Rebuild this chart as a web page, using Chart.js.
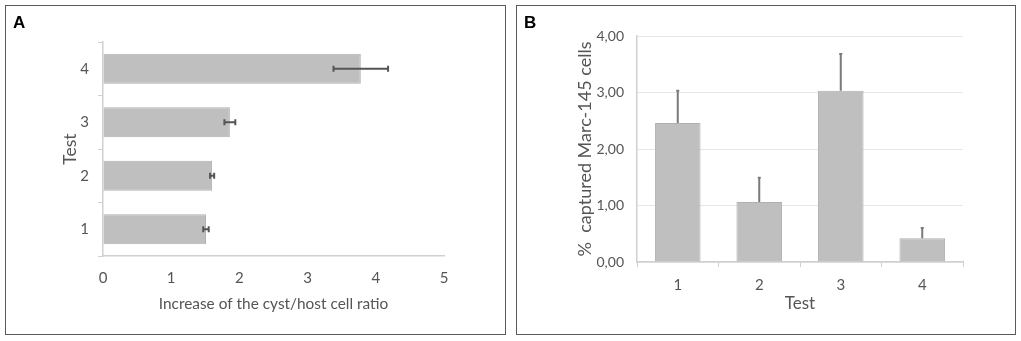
<!DOCTYPE html>
<html>
<head>
<meta charset="utf-8">
<script src="https://cdn.jsdelivr.net/npm/chart.js@4/dist/chart.umd.min.js"></script>
<style>
  html, body { margin: 0; padding: 0; background: #ffffff; }
  body { width: 1021px; height: 341px; position: relative; overflow: hidden; font-family: Lato, sans-serif; }
  .panel { position: absolute; top: 5px; height: 328px; border: 1px solid #5a5a5a; box-sizing: content-box; }
  .panel canvas { position: absolute; left: 0; top: 0; }
  .letter { position: absolute; left: 7px; top: 7px; font: bold 17px "Liberation Sans", Arial, sans-serif; color: #000; z-index: 2; }
</style>
</head>
<body>
<div class="panel" id="panelA" style="left:5px; width:499px;">
  <div class="letter">A</div>
  <div style="position:absolute;left:0;top:0;width:499px;height:328px;"><canvas id="chartA"></canvas></div>
</div>
<div class="panel" id="panelB" style="left:516px; width:498px;">
  <div class="letter">B</div>
  <div style="position:absolute;left:0;top:0;width:498px;height:328px;"><canvas id="chartB"></canvas></div>
</div>
<script>
// Panel A: cyst/host cell ratio (horizontal bars)
const testLabels = ['1', '2', '3', '4'];
const ratioValues = [1.51, 1.60, 1.86, 3.78];
const ratioErrors = [0.04, 0.03, 0.08, 0.40];
const ratioTicks = [0, 1, 2, 3, 4, 5];

// Panel B: captured Marc-145 cells (vertical bars)
const capturedValues = [2.46, 1.06, 3.03, 0.42];
const capturedErrors = [0.57, 0.43, 0.65, 0.18];
const capturedTicks = ['0,00', '1,00', '2,00', '3,00', '4,00'];

const colors = {
  bar: '#bfbfbf',
  barBorder: '#b0b0b0',
  axis: '#d0d0d0',
  grid: '#e6e6e6',
  text: '#555555',
  errA: '#555555',
  errB: '#7a7a7a'
};
const tickFont = { family: 'Lato', size: 15 };
const tickFontB = { family: 'Lato', size: 14 };

// draws error bars using the chart's own scales
const errorBarPlugin = {
  id: 'errorBars',
  afterDatasetsDraw(chart, args, opts) {
    const ctx = chart.ctx;
    const meta = chart.getDatasetMeta(0);
    const horizontal = chart.options.indexAxis === 'y';
    const valueScale = horizontal ? chart.scales.x : chart.scales.y;
    ctx.save();
    ctx.strokeStyle = opts.color;
    ctx.lineWidth = opts.width;
    meta.data.forEach((bar, i) => {
      const v = chart.data.datasets[0].data[i];
      const e = opts.errors[i];
      if (horizontal) {
        const y = bar.y;
        const x1 = valueScale.getPixelForValue(v - e);
        const x2 = valueScale.getPixelForValue(v + e);
        ctx.beginPath();
        ctx.moveTo(x1, y); ctx.lineTo(x2, y);
        ctx.moveTo(x1, y - 3); ctx.lineTo(x1, y + 3);
        ctx.moveTo(x2, y - 3); ctx.lineTo(x2, y + 3);
        ctx.stroke();
      } else {
        const x = bar.x;
        const y1 = valueScale.getPixelForValue(v);
        const y2 = valueScale.getPixelForValue(v + e);
        ctx.beginPath();
        ctx.moveTo(x, y1); ctx.lineTo(x, y2);
        ctx.moveTo(x - 1.5, y2); ctx.lineTo(x + 1.5, y2);
        ctx.stroke();
      }
    });
    ctx.restore();
  }
};

function fixSize(w, h) {
  return function(scale) {
    if (w !== null) scale.width = w;
    if (h !== null) scale.height = h;
  };
}

new Chart(document.getElementById('chartA'), {
  type: 'bar',
  data: {
    labels: testLabels,
    datasets: [{
      data: ratioValues,
      backgroundColor: colors.bar,
      borderColor: colors.barBorder,
      borderWidth: 1,
      categoryPercentage: 1,
      barPercentage: 0.56
    }]
  },
  options: {
    indexAxis: 'y',
    responsive: true,
    maintainAspectRatio: false,
    animation: false,
    layout: { padding: { top: 36, right: 61, left: 0, bottom: 0 } },
    plugins: {
      legend: { display: false },
      tooltip: { enabled: false },
      errorBars: { errors: ratioErrors, color: colors.errA, width: 2 }
    },
    scales: {
      x: {
        type: 'linear',
        min: 0,
        max: 5,
        afterBuildTicks: (scale) => { scale.ticks = ratioTicks.map(v => ({ value: v })); },
        afterFit: fixSize(null, 78),
        grid: { display: true, drawOnChartArea: false, drawTicks: false, color: colors.axis },
        border: { display: true, color: colors.axis, width: 1.5 },
        ticks: { color: colors.text, font: tickFont, padding: 13, maxRotation: 0 },
        title: {
          display: true,
          text: 'Increase of the cyst/host cell ratio',
          color: colors.text,
          font: { family: 'Lato', size: 15.4 },
          padding: { top: 0, bottom: 21 }
        }
      },
      y: {
        reverse: true,
        afterFit: fixSize(97, null),
        grid: { display: true, drawOnChartArea: false, drawTicks: true, tickLength: 5, color: colors.axis, offset: true },
        border: { display: true, color: colors.axis, width: 1.5 },
        ticks: { color: colors.text, font: tickFont, padding: 9 },
        title: {
          display: true,
          text: 'Test',
          color: colors.text,
          font: { family: 'Lato', size: 17.5 },
          padding: { top: 54, bottom: 0 }
        }
      }
    }
  },
  plugins: [errorBarPlugin]
});

new Chart(document.getElementById('chartB'), {
  type: 'bar',
  data: {
    labels: testLabels,
    datasets: [{
      data: capturedValues,
      backgroundColor: colors.bar,
      borderColor: colors.barBorder,
      borderWidth: 1,
      categoryPercentage: 1,
      barPercentage: 0.56
    }]
  },
  options: {
    responsive: true,
    maintainAspectRatio: false,
    animation: false,
    layout: { padding: { top: 30, right: 52, left: 0, bottom: 0 } },
    plugins: {
      legend: { display: false },
      tooltip: { enabled: false },
      errorBars: { errors: capturedErrors, color: colors.errB, width: 2 }
    },
    scales: {
      x: {
        afterFit: fixSize(null, 72),
        grid: { display: true, drawOnChartArea: false, drawTicks: true, tickLength: 5, color: colors.axis, offset: true },
        border: { display: true, color: colors.axis, width: 1.5 },
        ticks: { color: colors.text, font: tickFont, padding: 9 },
        title: {
          display: true,
          text: 'Test',
          color: colors.text,
          font: { family: 'Lato', size: 17 },
          padding: { top: 0, bottom: 20 }
        }
      },
      y: {
        min: 0,
        max: 4,
        afterBuildTicks: (scale) => { scale.ticks = capturedTicks.map(t => ({ value: parseFloat(t.replace(',', '.')) })); },
        afterFit: fixSize(120, null),
        grid: { display: true, drawTicks: false, color: colors.grid },
        border: { display: true, color: colors.axis, width: 1.5 },
        ticks: {
          color: colors.text,
          font: tickFontB,
          padding: 13,
          callback: (v, i) => capturedTicks[i]
        },
        title: {
          display: true,
          text: '%  captured Marc-145 cells',
          color: colors.text,
          font: { family: 'Lato', size: 18 },
          padding: { top: 57, bottom: 0 }
        }
      }
    }
  },
  plugins: [errorBarPlugin]
});
</script>
</body>
</html>
